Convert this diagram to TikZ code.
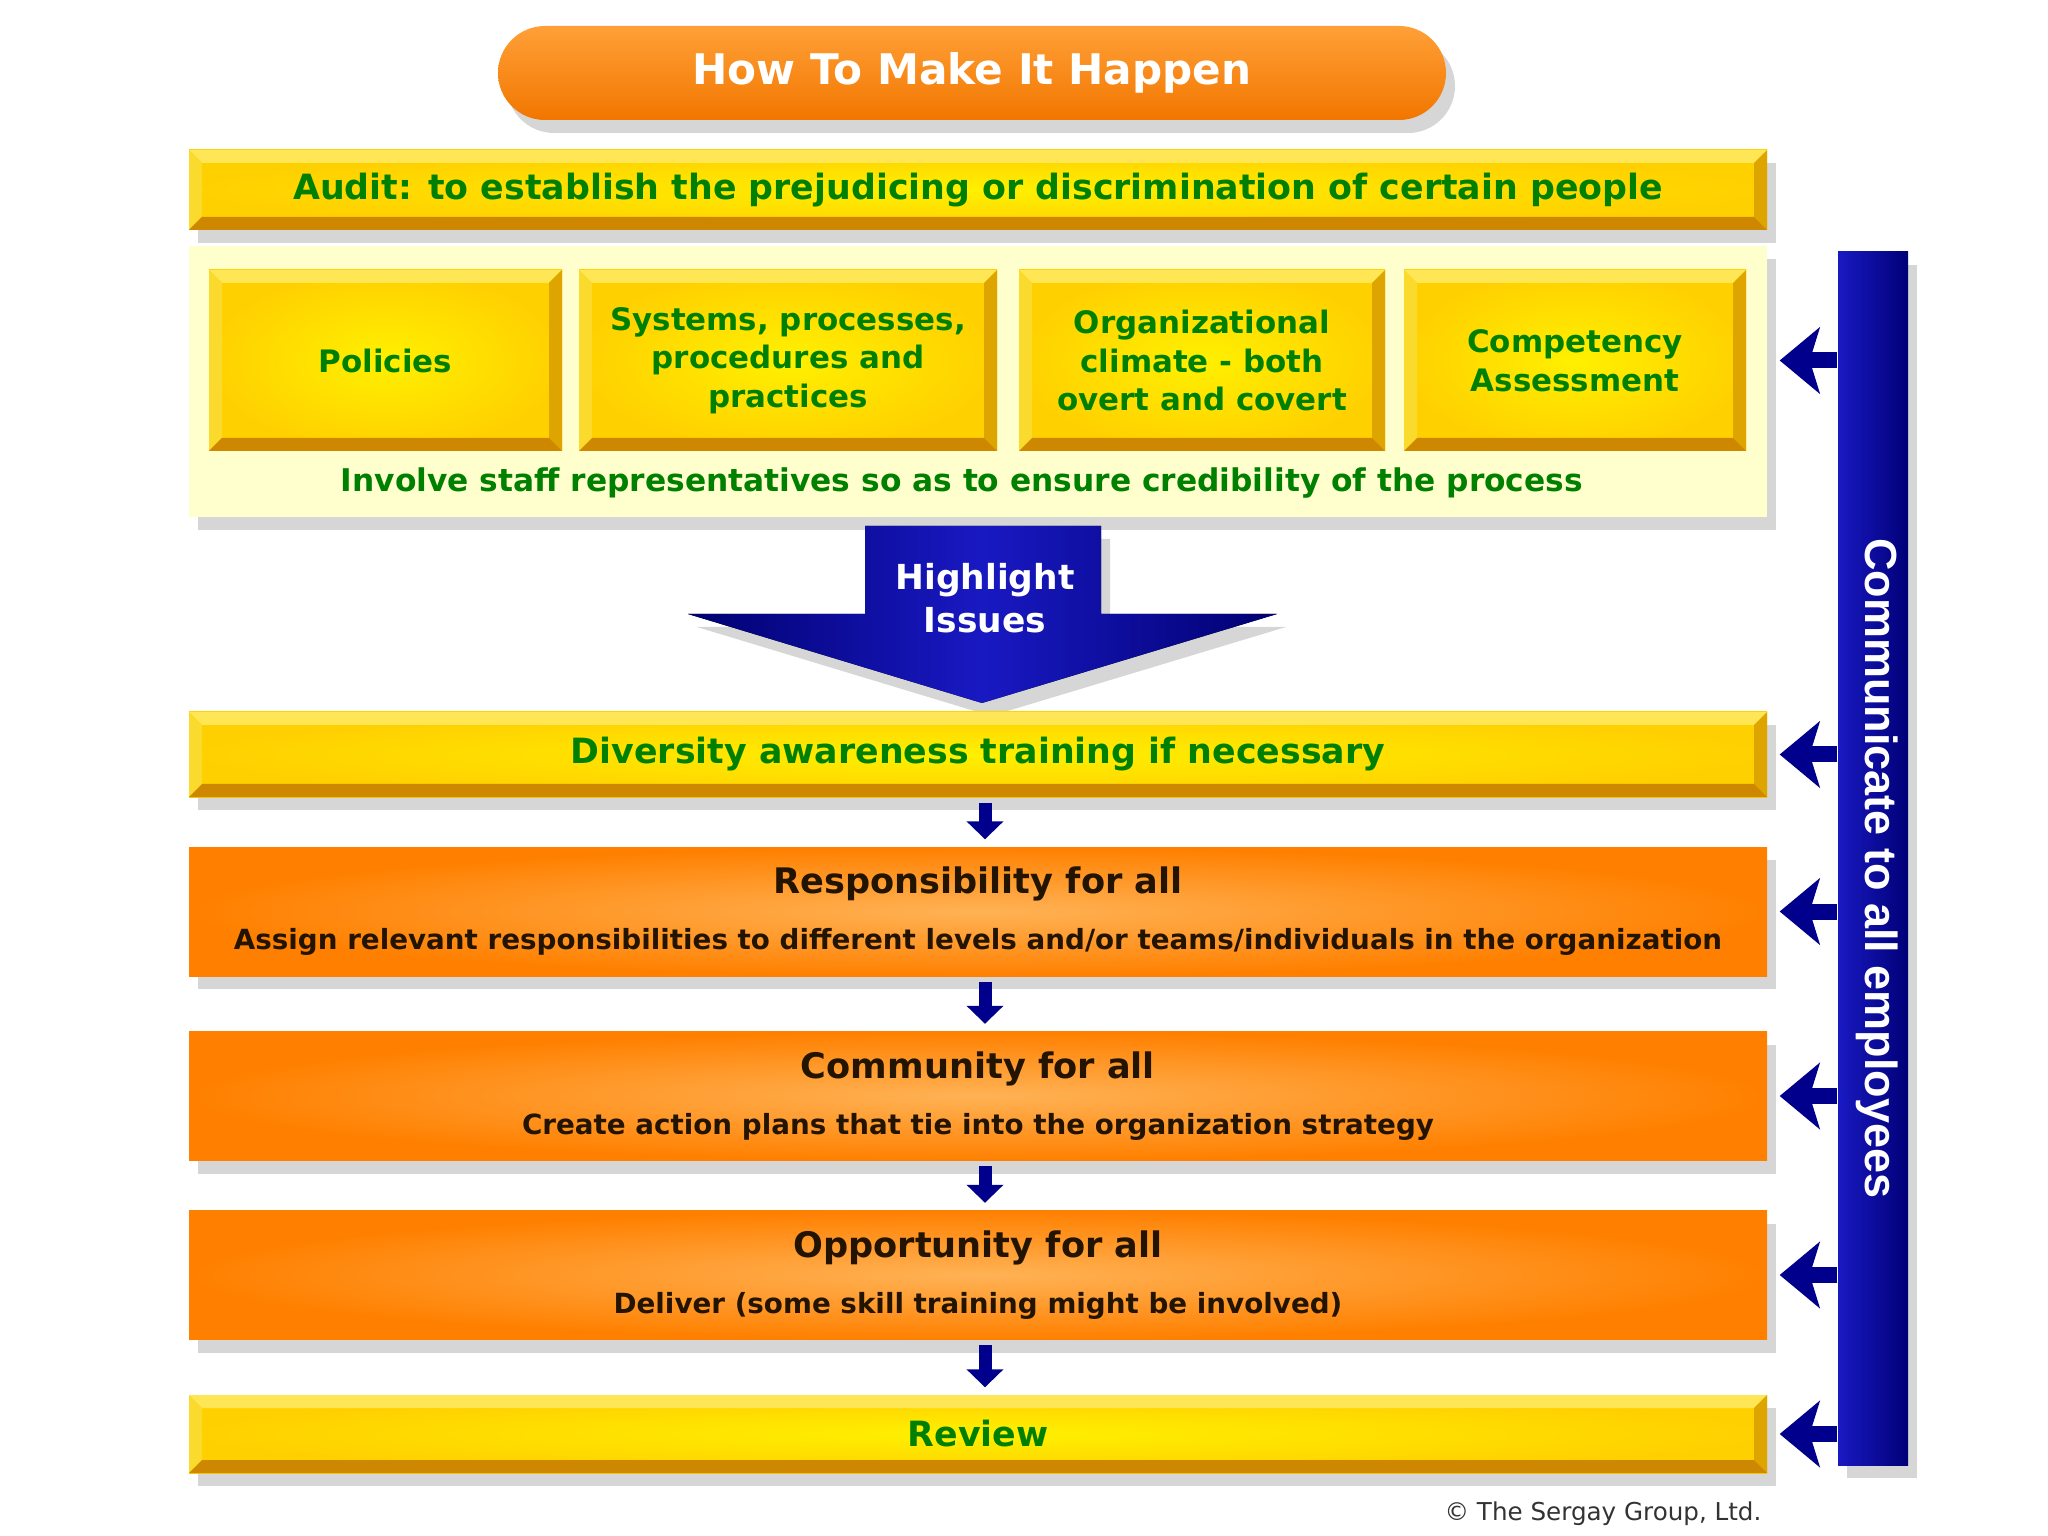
\documentclass[tikz,border=0pt]{standalone}
\usepackage{fontspec}
\setmainfont{DejaVu Sans}
\newfontfamily\arialfont{Liberation Sans}
\usepackage{tikz}
\usetikzlibrary{arrows.meta,calc,shadows}
\usepackage{xcolor}
\definecolor{titleorg}{RGB}{242,118,0}
\definecolor{titlehi}{RGB}{255,160,55}
\definecolor{yelin}{RGB}{255,240,0}
\definecolor{yelout}{RGB}{255,208,0}
\definecolor{yeltop}{RGB}{255,230,85}
\definecolor{yelleft}{RGB}{250,218,45}
\definecolor{yelright}{RGB}{222,165,0}
\definecolor{yelbot}{RGB}{205,135,0}
\definecolor{panelcol}{RGB}{255,255,206}
\definecolor{orgin}{RGB}{255,178,85}
\definecolor{orgout}{RGB}{255,128,0}
\definecolor{greencol}{RGB}{0,128,0}
\definecolor{darkcol}{RGB}{35,20,0}
\definecolor{navycol}{RGB}{0,0,140}
\definecolor{bluecol}{RGB}{25,25,195}
\tikzset{
  % soft grey shadow under a block
  softshadow/.style={drop shadow={shadow xshift=0.09cm, shadow yshift=-0.13cm, fill=black!45, opacity=0.35}},
  % bevelled facets of a yellow block
  ybevel/.style={path picture={
      \path (path picture bounding box.north west) coordinate (tl)
            (path picture bounding box.north east) coordinate (tr)
            (path picture bounding box.south west) coordinate (bl)
            (path picture bounding box.south east) coordinate (br);
      \fill[yeltop] (tl) -- (tr) -- ([shift={(-#1,-#1)}]tr) -- ([shift={(#1,-#1)}]tl) -- cycle;
      \fill[yelleft] (tl) -- (bl) -- ([shift={(#1,#1)}]bl) -- ([shift={(#1,-#1)}]tl) -- cycle;
      \fill[yelright] (tr) -- (br) -- ([shift={(-#1,#1)}]br) -- ([shift={(-#1,-#1)}]tr) -- cycle;
      \fill[yelbot] (bl) -- (br) -- ([shift={(-#1,#1)}]br) -- ([shift={(#1,#1)}]bl) -- cycle;
    }},
  ybevel/.default={0.13cm},
  % green bold text
  gtext/.style={text=greencol, font=\fontsize{9.9}{12}\selectfont\bfseries, align=center},
  % yellow block (inside the panel)
  yblock/.style={rectangle, inner color=yelin, outer color=yelout, ybevel, gtext, inner sep=0pt},
  % yellow bar with shadow
  ybar/.style={yblock, softshadow, minimum width=15.78cm},
  % orange block
  obox/.style={rectangle, inner color=orgin, outer color=orgout, softshadow, text=darkcol,
               font=\fontsize{10}{12}\selectfont\bfseries, align=center,
               minimum width=15.78cm, minimum height=1.29cm, inner sep=0pt},
  % sub line of an orange block
  subfont/.style={font=\fontsize{7.9}{9.5}\selectfont\bfseries},
  % title pill
  titlepill/.style={rectangle, rounded corners=0.47cm, top color=titlehi, bottom color=titleorg,
                    minimum width=9.48cm, minimum height=0.94cm, text=white,
                    font=\fontsize{12}{14}\selectfont\bfseries, softshadow},
  % pale panel round the four blocks
  panelbox/.style={rectangle, fill=panelcol, softshadow, minimum width=15.78cm, minimum height=2.71cm},
  % blue side bar
  sidebar/.style={rectangle, left color=bluecol, right color=navycol!85!black,
                  minimum width=0.70cm, minimum height=12.13cm, softshadow},
  % big down arrow
  hlarrow/.style={left color=navycol!80!black, right color=navycol!80!black, middle color=bluecol, softshadow},
  % white text on blue
  wtext/.style={text=white, font=\fontsize{9.8}{12.3}\selectfont\bfseries, align=center},
  % arrow from the side bar
  commarrow/.style={-{Stealth[length=0.40cm, width=0.66cm, inset=0.1cm]}, line width=0.16cm, navycol},
  % arrow between steps
  flowarrow/.style={-{Triangle[length=0.18cm, width=0.36cm]}, line width=0.13cm, navycol,
                    shorten <=0.05cm, shorten >=0.07cm},
}

\begin{document}
\begin{tikzpicture}
  \useasboundingbox (0,0) rectangle (20.48,-15.36);
  \fill[white] (0,0) rectangle (20.48,-15.36);

  % ═══════ TITLE ═══════
  \node[titlepill] (title) at (9.72,-0.73) {How To Make It Happen};

  % ═══════ AUDIT ═══════
  \node[ybar, minimum height=0.80cm] (audit) at (9.78,-1.90)
    {Audit: to establish the prejudicing or discrimination of certain people};
  \node[panelbox] (panel) at (9.78,-3.815) {};
  \node[yblock, font=\fontsize{8.8}{11}\selectfont\bfseries, minimum width=3.53cm, minimum height=1.81cm] (pol) at (3.855,-3.605) {Policies};
  \node[yblock, font=\fontsize{8.8}{11}\selectfont\bfseries, minimum width=4.18cm, minimum height=1.81cm] (sys) at (7.88,-3.605)
    {Systems, processes,\\procedures and\\practices};
  \node[yblock, font=\fontsize{8.8}{11}\selectfont\bfseries, minimum width=3.66cm, minimum height=1.81cm] (org) at (12.02,-3.605)
    {Organizational\\climate - both\\overt and covert};
  \node[yblock, font=\fontsize{8.8}{11}\selectfont\bfseries, minimum width=3.42cm, minimum height=1.81cm] (comp) at (15.75,-3.605)
    {Competency\\Assessment};
  \node[gtext, font=\fontsize{8.9}{11}\selectfont\bfseries] (involve) at (9.62,-4.83)
    {Involve staff representatives so as to ensure credibility of the process};

  % ═══════ HIGHLIGHT ═══════
  \fill[hlarrow] (8.65,-5.26) -- (11.01,-5.26) -- (11.01,-6.14) -- (12.77,-6.14)
    -- (9.82,-7.03) -- (6.88,-6.14) -- (8.65,-6.14) -- cycle;
  \node[wtext] (hl) at (9.85,-5.98) {Highlight\\Issues};

  % ═══════ STEPS ═══════
  \node[ybar, minimum height=0.85cm] (div) at (9.78,-7.545) {Diversity awareness training if necessary};
  \node[obox] (resp) at (9.78,-9.115)
    {Responsibility for all\\[4pt]{\fontsize{7.9}{9.5}\selectfont Assign relevant responsibilities to different levels and/or teams/individuals in the organization}};
  \node[obox] (cmty) at (9.78,-10.96)
    {Community for all\\[4pt]{\fontsize{7.9}{9.5}\selectfont Create action plans that tie into the organization strategy}};
  \node[obox] (opp) at (9.78,-12.75)
    {Opportunity for all\\[4pt]{\fontsize{7.9}{9.5}\selectfont Deliver (some skill training might be involved)}};
  \node[ybar, minimum height=0.78cm] (rev) at (9.78,-14.34) {Review};

  \foreach \a/\b in {div/resp, resp/cmty, cmty/opp, opp/rev}
    \draw[flowarrow] ([xshift=0.07cm]\a.south) -- ([xshift=0.07cm]\b.north);

  % ═══════ SIDE BAR ═══════
  \node[sidebar] (commbar) at (18.73,-8.585) {};
  \node[text=white, font=\arialfont\fontsize{12.8}{15}\selectfont\bfseries, rotate=-90] (commtext)
    at ([xshift=0.04cm,yshift=-0.1cm]commbar.center) {Communicate to all employees};
  \draw[commarrow] (commbar.west |- comp.east) -- ([xshift=0.12cm]panel.east |- comp.east);
  \foreach \b in {div, resp, cmty, opp, rev}
    \draw[commarrow] (commbar.west |- \b.east) -- ([xshift=0.12cm]\b.east);

  \node[text=black!80, font=\fontsize{7}{9}\selectfont] (copy) at (16.03,-15.14) {© The Sergay Group, Ltd.};

\end{tikzpicture}
\end{document}
